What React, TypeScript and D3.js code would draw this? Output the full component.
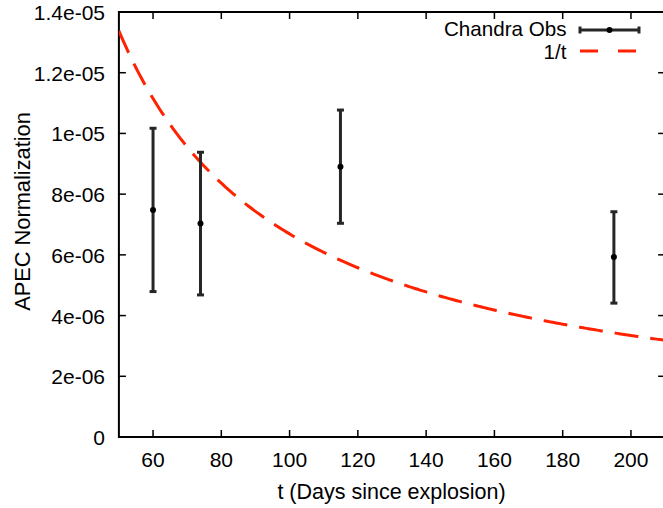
import React from "react";
import * as d3 from "d3";

const obsDays = [60, 73.9, 114.9, 195];
const obsNorm = [7.48e-6, 7.03e-6, 8.9e-6, 5.93e-6];
const obsLow = [4.79e-6, 4.68e-6, 7.04e-6, 4.41e-6];
const obsHigh = [1.017e-5, 9.38e-6, 1.077e-5, 7.42e-6];

const xTicks = [60, 80, 100, 120, 140, 160, 180, 200];
const yTicks = [0, 2e-6, 4e-6, 6e-6, 8e-6, 1e-5, 1.2e-5, 1.4e-5];
const yTickLabels = ["0", "2e-06", "4e-06", "6e-06", "8e-06", "1e-05", "1.2e-05", "1.4e-05"];

// model: A / t
const modelA = 6.69e-4;
const modelDays = d3.range(50, 210.5, 0.5);

const W = 663;
const H = 508;
const FONT = "'Liberation Sans', Arial, Helvetica, sans-serif";

export default function App() {
  const x = d3.scaleLinear().domain([50, 210]).range([118.9, 665.1]);
  const y = d3.scaleLinear().domain([0, 1.4e-5]).range([437, 12]);
  const left = x(50), right = x(210), top = y(1.4e-5), bottom = y(0);

  const line = d3
    .line<number>()
    .x((d) => x(d))
    .y((d) => y(modelA / d));

  const red = "#ff2200";
  const bar = "#262626";

  return (
    <svg
      width={W}
      height={H}
      style={{ position: "absolute", left: 0, top: 0, background: "#fff" }}
      fontFamily={FONT}
    >
      <defs>
        <clipPath id="plotclip">
          <rect x={left} y={top} width={right - left} height={bottom - top} />
        </clipPath>
      </defs>

      {/* ticks */}
      {xTicks.map((t) => (
        <g key={"xt" + t} stroke="#000" strokeWidth={1.5}>
          <line x1={x(t)} x2={x(t)} y1={bottom} y2={bottom - 7} />
          <line x1={x(t)} x2={x(t)} y1={top} y2={top + 7} />
        </g>
      ))}
      {yTicks.map((t) => (
        <g key={"yt" + t} stroke="#000" strokeWidth={1.5}>
          <line x1={left} x2={left + 7} y1={y(t)} y2={y(t)} />
          <line x1={right} x2={right - 7} y1={y(t)} y2={y(t)} />
        </g>
      ))}

      {/* frame */}
      <rect
        x={left}
        y={top}
        width={right - left}
        height={bottom - top}
        fill="none"
        stroke="#000"
        strokeWidth={2}
      />

      {/* tick labels */}
      {xTicks.map((t) => (
        <text key={"xl" + t} x={x(t)} y={467} textAnchor="middle" fontSize={21} fill="#000">
          {t}
        </text>
      ))}
      {yTicks.map((t, i) => (
        <text key={"yl" + t} x={105} y={y(t) + 8} textAnchor="end" fontSize={21} fill="#000">
          {yTickLabels[i]}
        </text>
      ))}

      {/* axis titles */}
      <text x={391.5} y={499} textAnchor="middle" fontSize={21.5} fill="#000">
        t (Days since explosion)
      </text>
      <text
        transform={`translate(29.5, 211.5) rotate(-90)`}
        textAnchor="middle"
        fontSize={21.8}
        fill="#000"
      >
        APEC Normalization
      </text>

      {/* model curve */}
      <path
        d={line(modelDays) || ""}
        fill="none"
        stroke={red}
        strokeWidth={3}
        strokeDasharray="24,12"
        clipPath="url(#plotclip)"
      />

      {/* error bars */}
      {obsDays.map((d, i) => (
        <g key={"ob" + i} stroke={bar} strokeWidth={3}>
          <line x1={x(d)} x2={x(d)} y1={y(obsLow[i])} y2={y(obsHigh[i])} />
          <line x1={x(d) - 3.5} x2={x(d) + 3.5} y1={y(obsLow[i])} y2={y(obsLow[i])} />
          <line x1={x(d) - 3.5} x2={x(d) + 3.5} y1={y(obsHigh[i])} y2={y(obsHigh[i])} />
          <circle cx={x(d)} cy={y(obsNorm[i])} r={3} fill="#000" stroke="none" />
        </g>
      ))}

      {/* legend */}
      <text x={566.5} y={35.5} textAnchor="end" fontSize={20.6} fill="#000">
        Chandra Obs
      </text>
      <g stroke={bar} strokeWidth={3}>
        <line x1={580} x2={639} y1={30} y2={30} />
        <line x1={580} x2={580} y1={26.5} y2={33.5} />
        <line x1={639} x2={639} y1={26.5} y2={33.5} />
        <circle cx={609.5} cy={30} r={3} fill="#000" stroke="none" />
      </g>
      <text x={566.5} y={58.8} textAnchor="end" fontSize={20.6} fill="#000">
        1/t
      </text>
      <line x1={580} x2={639} y1={51} y2={51} stroke={red} strokeWidth={3} strokeDasharray="18,20" />
    </svg>
  );
}
